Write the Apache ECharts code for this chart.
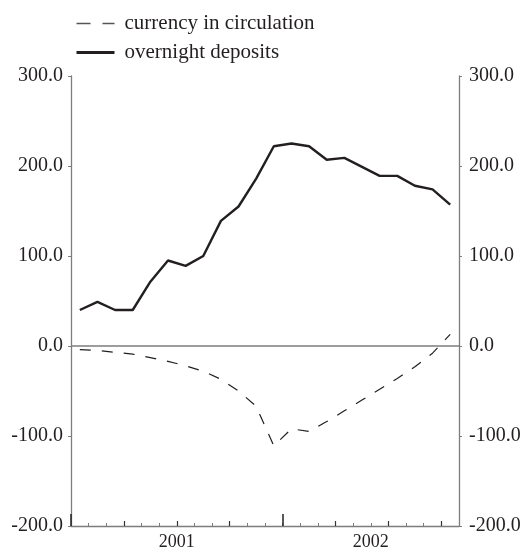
<!DOCTYPE html>
<html><head><meta charset="utf-8">
<script src="https://cdn.jsdelivr.net/npm/echarts@6/dist/echarts.min.js"></script>
<style>html,body{margin:0;padding:0;background:#fff}#c{width:526px;height:551px}</style>
</head><body><div id="c"></div>
<script>
const months = ['2001-01','2001-02','2001-03','2001-04','2001-05','2001-06','2001-07','2001-08','2001-09','2001-10','2001-11','2001-12',
                '2002-01','2002-02','2002-03','2002-04','2002-05','2002-06','2002-07','2002-08','2002-09','2002-10'];
const currencyInCirculation = [-4, -5, -7, -9, -13, -17, -22, -28, -37, -50, -67, -111,
                               -92, -95, -84, -72, -60, -48, -36, -23, -8, 13];
const overnightDeposits = [40, 49, 40, 40, 71.5, 95, 89, 100, 139, 155, 186, 222,
                           225, 222, 207, 209, 199, 189, 189, 178, 174, 157];
const yearLabels = ['2001', '2002'];
const yearLabelPositions = [6, 17];
const yearTickPositions = [0, 12];
const quarterTickPositions = [3, 6, 9, 15, 18, 21];
const seriesNames = ['currency in circulation', 'overnight deposits'];

const FONT = 'Liberation Serif';
const TXT = '#231f20';
const AX = '#7d7d7d';

const chart = echarts.init(document.getElementById('c'));
const yAxisCommon = {
  type: 'value', min: -200, max: 300, interval: 100,
  axisLine: { show: true, onZero: false, lineStyle: { color: AX, width: 1.3 } },
  axisTick: { show: true, length: 3, lineStyle: { color: AX } },
  splitLine: { show: false },
  axisLabel: { color: TXT, fontFamily: FONT, fontSize: 20, formatter: v => v.toFixed(1) }
};
chart.setOption({
  animation: false,
  grid: { left: 71, right: 67, top: 76, bottom: 25, containLabel: false },
  legend: {
    orient: 'vertical', left: 70, top: 8, itemGap: 8,
    itemWidth: 38, itemHeight: 14,
    itemStyle: { opacity: 0 },
    textStyle: { color: TXT, fontFamily: FONT, fontSize: 21, padding: [0, 0, 0, 5] },
    data: [
      { name: seriesNames[0], lineStyle: { width: 1.3, type: [14, 12], color: '#555' } },
      { name: seriesNames[1], lineStyle: { width: 3, type: 'solid', color: TXT } }
    ]
  },
  xAxis: [
    {
      type: 'category', data: months, boundaryGap: true, position: 'bottom',
      axisLine: { show: true, onZero: false, lineStyle: { color: AX, width: 1.3 } },
      axisTick: { show: true, inside: true, length: 3, interval: 0, lineStyle: { color: AX } },
      axisLabel: { show: false }, splitLine: { show: false }
    },
    {
      type: 'value', min: 0, max: 22, position: 'bottom',
      axisLine: { show: false, onZero: false },
      axisTick: { show: true, inside: true, length: 5, customValues: quarterTickPositions, lineStyle: { color: '#333', width: 1.2 } },
      axisLabel: { show: false }, splitLine: { show: false }
    },
    {
      type: 'value', min: 0, max: 22, position: 'bottom',
      axisLine: { show: false, onZero: false },
      axisTick: { show: true, inside: true, length: 12, customValues: yearTickPositions, lineStyle: { color: '#222', width: 1.5 } },
      axisLabel: {
        show: true, customValues: yearLabelPositions, margin: 7,
        color: TXT, fontFamily: FONT, fontSize: 18,
        formatter: v => yearLabels[yearLabelPositions.indexOf(v)] || ''
      },
      splitLine: { show: false }
    }
  ],
  yAxis: [
    Object.assign({}, yAxisCommon, { position: 'left', axisLabel: Object.assign({}, yAxisCommon.axisLabel, { margin: 8 }) }),
    Object.assign({}, yAxisCommon, { position: 'right', axisLabel: Object.assign({}, yAxisCommon.axisLabel, { margin: 10 }) })
  ],
  series: [
    {
      name: seriesNames[0], type: 'line', data: currencyInCirculation,
      xAxisIndex: 0, yAxisIndex: 0, symbol: 'none',
      lineStyle: { color: TXT, width: 1.2, type: [11, 11] },
      itemStyle: { color: TXT }
    },
    {
      name: seriesNames[1], type: 'line', data: overnightDeposits,
      xAxisIndex: 0, yAxisIndex: 0, symbol: 'none',
      lineStyle: { color: TXT, width: 2.4, type: 'solid' },
      itemStyle: { color: TXT },
      markLine: {
        silent: true, symbol: ['none', 'none'], label: { show: false },
        lineStyle: { color: AX, width: 1.5, type: 'solid' },
        data: [{ yAxis: 0 }]
      }
    }
  ]
});
</script>
</body></html>
